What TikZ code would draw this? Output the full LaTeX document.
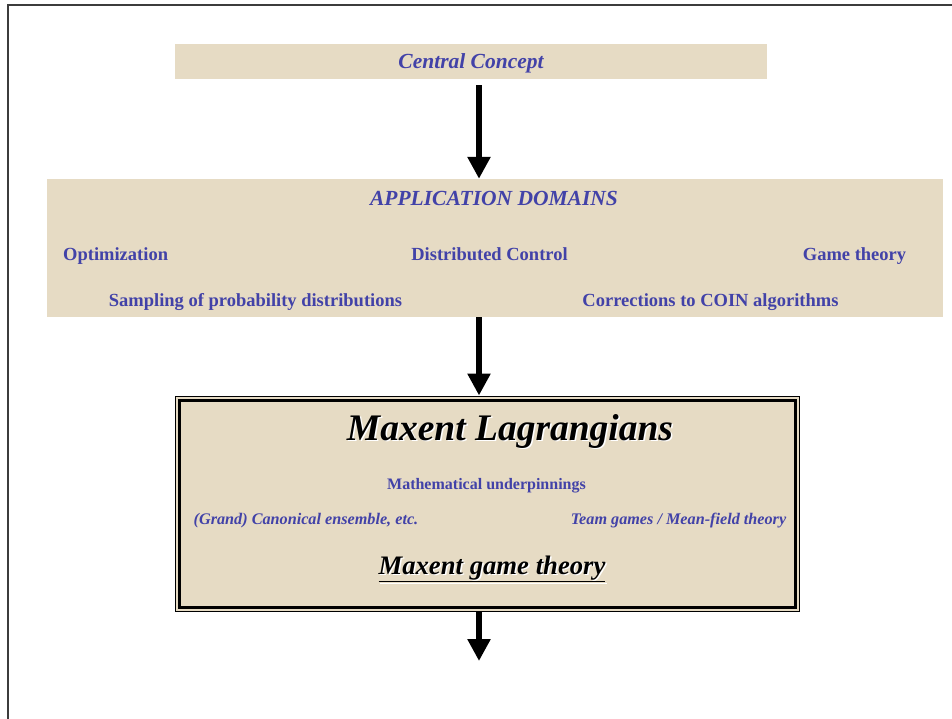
\documentclass[tikz,border=0pt]{standalone}
\usepackage{fontspec}
\setmainfont{Liberation Serif}
\usetikzlibrary{arrows.meta,calc}
\definecolor{cream}{RGB}{230,219,196}
\definecolor{txtblue}{RGB}{66,66,168}
\definecolor{framegray}{RGB}{60,60,60}
\tikzset{
  panel/.style={fill=cream, draw=none, inner sep=0pt},
  bluebi/.style={text=txtblue, font=\bfseries\itshape\fontsize{#1}{#1}\selectfont, inner sep=0pt},
  blueb/.style={text=txtblue, font=\bfseries\fontsize{#1}{#1}\selectfont, inner sep=0pt, anchor=base},
  bigtitle/.style={text=black, font=\bfseries\itshape\fontsize{#1}{#1}\selectfont, inner sep=0pt},
  shadowtext/.style={text=white, font=\bfseries\itshape\fontsize{#1}{#1}\selectfont, inner sep=0pt},
  flow/.style={line width=6pt, -{Triangle[width=22pt,length=22pt]}}
}
\begin{document}
\begin{tikzpicture}[x=1pt,y=-1pt]
\useasboundingbox (0,0) rectangle (952,719);
% page frame (top and left edges)
\draw[framegray, line width=1.4pt] (8,719) -- (8,5) -- (952,5);

% vertical spine used by the arrows
\coordinate (spine) at (479,0);

% central concept banner
\node[panel, minimum width=592pt, minimum height=35pt] (cc) at (471,61.5) {};
\node[bluebi=21.5] (cct) at (471,63) {Central Concept};

% application domains panel
\node[panel, minimum width=896pt, minimum height=138pt] (app) at (495,248) {};
\node[bluebi=21.5] (appt) at (494,198) {APPLICATION DOMAINS};
\node[blueb=18.5, anchor=base west] (opt) at (63,260) {Optimization};
\node[blueb=18.5] (dc) at (489.5,260) {Distributed Control};
\node[blueb=18.5] (gt) at (854.5,260) {Game theory};
\node[blueb=18.5] (samp) at (255.5,306) {Sampling of probability distributions};
\node[blueb=18.5] (coin) at (710.5,306) {Corrections to COIN algorithms};

% maxent Lagrangians box with double border
\node[panel, draw=black, line width=1pt, minimum width=624pt, minimum height=215pt] (mx) at (487,503.5) {};
\draw[line width=3pt] ($(mx.north west)+(4.5,4.5)$) rectangle ($(mx.south east)+(-4.5,-4.5)$);

\node[shadowtext=37.5] at (511.5,432.5) {Maxent Lagrangians};
\node[bigtitle=37.5] (mlt) at (510,431) {Maxent Lagrangians};
\node[blueb=16] (mu) at (486.5,489.5) {Mathematical underpinnings};
\node[bluebi=16.2] (gce) at (306,521) {(Grand) Canonical ensemble, etc.};
\node[bluebi=16.2] (tg) at (678.5,521) {Team games / Mean-field theory};
\node[shadowtext=26.7] at (493.5,570.5) {\underline{Maxent game theory}};
\node[bigtitle=26.7] (mgt) at (492,569) {\underline{Maxent game theory}};

% flow arrows
\coordinate (out) at (479,661);
\draw[flow] ($(cc.south -| spine)+(0,6)$) -- (app.north -| spine);
\draw[flow] (app.south -| spine) -- (mx.north -| spine);
\draw[flow] (mx.south -| spine) -- (out);
\end{tikzpicture}
\end{document}
